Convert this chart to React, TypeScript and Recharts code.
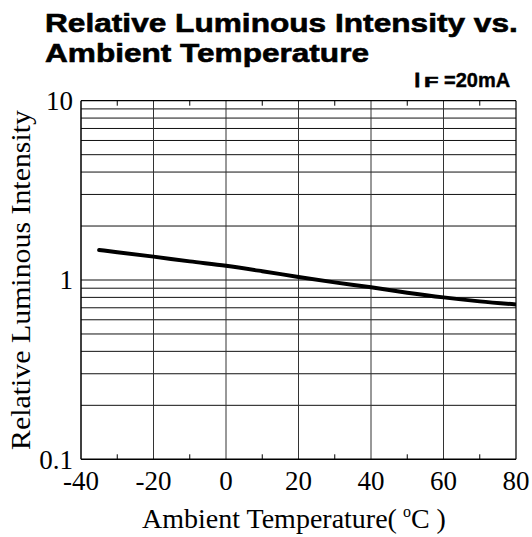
import { LineChart, Line, XAxis, YAxis, ReferenceLine } from "recharts";

// curve
const temps = [-35, -30, -20, -10, 0, 10, 20, 30, 40, 50, 60, 70, 80];
const intensity = [1.47, 1.43, 1.35, 1.27, 1.2, 1.12, 1.04, 0.97, 0.91, 0.85, 0.8, 0.76, 0.73];

const xTicks = [-40, -30, -20, -10, 0, 10, 20, 30, 40, 50, 60, 70, 80];
const xLabels = [-40, -20, 0, 20, 40, 60, 80];
const yTicks = [0.1, 1, 10];
const hGrid = [0.2, 0.3, 0.4, 0.5, 0.6, 0.7, 0.8, 0.9, 1, 2, 3, 4, 5, 6, 7, 8, 9];
const vGrid = [-20, 0, 20, 40, 60];

const W = 532;
const H = 537;
const PLOT_TOP = 100.7;
const PLOT_LEFT = 81;
const PLOT_RIGHT = 516;
const PLOT_BOTTOM = 459.3;
const SERIF = "'Liberation Serif', 'Times New Roman', serif";
const SANS = "'Liberation Sans', Arial, sans-serif";

const data = temps.map((t, i) => ({ t, v: intensity[i] }));

function XTick(props: any) {
  const { x, y, payload } = props;
  const v = payload.value;
  const labelled = xLabels.includes(v);
  return (
    <g>
      {!labelled && <line x1={x} x2={x} y1={y} y2={y - 5} stroke="#000" strokeWidth={1} />}
      {!labelled && <line x1={x} x2={x} y1={PLOT_TOP} y2={PLOT_TOP + 5} stroke="#000" strokeWidth={1} />}
      {labelled && (
        <text x={x} y={y + 30.5} textAnchor="middle" fontFamily={SERIF} fontSize={27} fill="#000">
          {v}
        </text>
      )}
    </g>
  );
}

function YTick(props: any) {
  const { x, y, payload } = props;
  return (
    <text x={x} y={y} dy="0.35em" textAnchor="end" fontFamily={SERIF} fontSize={27} fill="#000">
      {payload.value}
    </text>
  );
}

export default function App() {
  return (
    <div style={{ position: "absolute", left: 0, top: 0, width: W, height: H, background: "#fff" }}>
      <LineChart
        width={W}
        height={H}
        data={data}
        margin={{ top: PLOT_TOP, right: W - PLOT_RIGHT, bottom: H - PLOT_BOTTOM - 40, left: PLOT_LEFT - 60 }}
      >
        <XAxis
          dataKey="t"
          type="number"
          domain={[-40, 80]}
          ticks={xTicks}
          allowDataOverflow
          height={40}
          tickSize={0}
          tickMargin={0}
          tickLine={false}
          axisLine={{ stroke: "#000", strokeWidth: 1.5 }}
          tick={<XTick />}
          interval={0}
        />
        <YAxis
          type="number"
          scale="log"
          domain={[0.1, 10]}
          ticks={yTicks}
          allowDataOverflow
          width={60}
          tickSize={0}
          tickMargin={8}
          tickLine={false}
          axisLine={{ stroke: "#000", strokeWidth: 1.5 }}
          tick={<YTick />}
          interval={0}
        />
        {hGrid.map((g) => (
          <ReferenceLine key={"h" + g} y={g} stroke="#111" strokeWidth={1} />
        ))}
        {vGrid.map((g) => (
          <ReferenceLine key={"v" + g} x={g} stroke="#333" strokeWidth={1} />
        ))}
        <ReferenceLine y={10} stroke="#000" strokeWidth={1.2} />
        <ReferenceLine x={80} stroke="#000" strokeWidth={1.2} />
        <Line
          dataKey="v"
          type="monotone"
          stroke="#000"
          strokeWidth={4}
          strokeLinecap="round"
          dot={false}
          activeDot={false}
          isAnimationActive={false}
        />
      </LineChart>
      <svg
        width={W}
        height={H}
        style={{ position: "absolute", left: 0, top: 0, pointerEvents: "none" }}
      >
        <g transform="translate(45, 32) scale(1.2, 1)">
          <text x={0} y={0} fontFamily={SANS} fontWeight="bold" fontSize={26} stroke="#000" strokeWidth={0.6}
            textLength={394} lengthAdjust="spacingAndGlyphs">
            Relative Luminous Intensity vs.
          </text>
        </g>
        <g transform="translate(45, 62) scale(1.2, 1)">
          <text x={0} y={0} fontFamily={SANS} fontWeight="bold" fontSize={26} stroke="#000" strokeWidth={0.6}
            textLength={270} lengthAdjust="spacingAndGlyphs">
            Ambient Temperature
          </text>
        </g>
        <text x={414.5} y={86.7} fontFamily={SANS} fontWeight="bold" fontSize={20} stroke="#000" strokeWidth={0.8}>I</text>
        <g transform="translate(424, 86.7) scale(1.7, 1)">
          <text x={0} y={0} fontFamily={SANS} fontWeight="bold" fontSize={14} stroke="#000" strokeWidth={0.5}>F</text>
        </g>
        <text x={444} y={86.7} fontFamily={SANS} fontWeight="bold" fontSize={20} stroke="#000" strokeWidth={0.4}>=20mA</text>
        <g transform="translate(30, 280) rotate(-90) scale(1.1, 1)">
          <text
            x={0}
            y={0}
            textAnchor="middle"
            fontFamily={SERIF}
            fontSize={27}
            textLength={309}
            lengthAdjust="spacingAndGlyphs"
          >
            Relative Luminous Intensity
          </text>
        </g>
        <text x={294} y={528.3} textAnchor="middle" fontFamily={SERIF} fontSize={28}>
          Ambient Temperature(<tspan dx={6} dy={-11} fontSize={16}>o</tspan>
          <tspan dy={11}>C )</tspan>
        </text>
      </svg>
    </div>
  );
}
